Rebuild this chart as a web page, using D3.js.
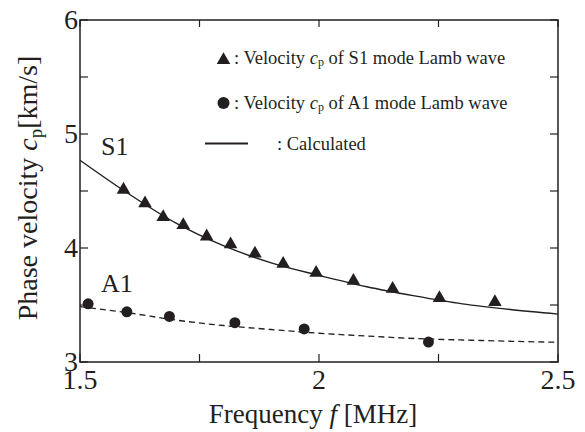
<!DOCTYPE html>
<meta charset="utf-8">
<style>
  body { margin: 0; background: #fff; }
  text { font-family: "Liberation Serif", "Times New Roman", serif; fill: #231f20; }
</style>
<svg width="585" height="432"></svg>
<script src="https://d3js.org/d3.v7.min.js"></script>
<script>
// measured S1 mode (triangles)
var s1Freq = [1.591, 1.636, 1.674, 1.716, 1.765, 1.815, 1.866, 1.925, 1.994, 2.072, 2.154, 2.252, 2.368]
var s1Vel  = [4.52, 4.40, 4.28, 4.21, 4.11, 4.04, 3.96, 3.87, 3.79, 3.72, 3.65, 3.57, 3.535]
// measured A1 mode (circles)
var a1Freq = [1.517, 1.598, 1.687, 1.824, 1.969, 2.229]
var a1Vel  = [3.51, 3.44, 3.40, 3.345, 3.29, 3.175]
// calculated curves
var calcFreq = [1.5, 1.6, 1.7, 1.8, 1.9, 2.0, 2.1, 2.2, 2.3, 2.4, 2.5]
var calcS1   = [4.77, 4.48, 4.22, 4.02, 3.87, 3.76, 3.66, 3.58, 3.51, 3.46, 3.42]
var calcA1   = [3.485, 3.432, 3.368, 3.32, 3.285, 3.252, 3.228, 3.206, 3.193, 3.182, 3.173]
var xTicks = [1.5, 2, 2.5]
var yTicks = [3, 4, 5, 6]

var ink = '#231f20'
var svg = d3.select('svg')
// note: "top" is taken by window.top, so use other names
var pLeft = 80, pRight = 558, pTop = 20, pBottom = 362

var x = d3.scaleLinear().domain([1.5, 2.5]).range([pLeft, pRight])
var y = d3.scaleLinear().domain([3, 6]).range([pBottom, pTop])

// frame
svg.append('rect')
    .attr('x', pLeft).attr('y', pTop)
    .attr('width', pRight - pLeft).attr('height', pBottom - pTop)
    .attr('fill', 'none').attr('stroke', ink).attr('stroke-width', 1.5)

// inward ticks on all four sides
var xt = d3.range(1.5, 2.51, 0.25)
var yt = d3.range(3, 6.01, 0.5)
var tk = svg.append('g').attr('stroke', ink).attr('stroke-width', 1.2)
xt.forEach(function (v) {
    tk.append('line').attr('x1', x(v)).attr('x2', x(v)).attr('y1', pBottom).attr('y2', pBottom - 8)
    tk.append('line').attr('x1', x(v)).attr('x2', x(v)).attr('y1', pTop).attr('y2', pTop + 7)
})
yt.forEach(function (v) {
    tk.append('line').attr('x1', pLeft).attr('x2', pLeft + 8).attr('y1', y(v)).attr('y2', y(v))
    tk.append('line').attr('x1', pRight).attr('x2', pRight - 8).attr('y1', y(v)).attr('y2', y(v))
})

// tick labels
svg.append('g').selectAll('text').data(xTicks).enter().append('text')
    .attr('x', function (d) { return x(d) })
    .attr('y', pBottom + 27)
    .attr('text-anchor', 'middle')
    .attr('font-size', 28)
    .text(function (d) { return d })
svg.append('g').selectAll('text').data(yTicks).enter().append('text')
    .attr('x', pLeft - 2)
    .attr('y', function (d) { return y(d) + 9 })
    .attr('text-anchor', 'end')
    .attr('font-size', 28)
    .text(function (d) { return d })

// axis titles
var xt2 = svg.append('text').attr('x', 313).attr('y', 423).attr('text-anchor', 'middle').attr('font-size', 27)
xt2.append('tspan').text('Frequency ')
xt2.append('tspan').attr('font-style', 'italic').text('f')
xt2.append('tspan').text(' [MHz]')

var yt2 = svg.append('text').attr('transform', 'translate(37,188) rotate(-90)')
    .attr('text-anchor', 'middle').attr('font-size', 28)
yt2.append('tspan').text('Phase velocity ')
yt2.append('tspan').attr('font-style', 'italic').text('c')
yt2.append('tspan').attr('font-size', 19).attr('dy', 5).text('p')
yt2.append('tspan').attr('dy', -5).text('[km/s]')

// calculated curves
var line = d3.line().curve(d3.curveMonotoneX)
    .x(function (d) { return x(d[0]) }).y(function (d) { return y(d[1]) })
svg.append('path').datum(d3.zip(calcFreq, calcS1))
    .attr('d', line).attr('fill', 'none').attr('stroke', ink).attr('stroke-width', 1.4)
svg.append('path').datum(d3.zip(calcFreq, calcA1))
    .attr('d', line).attr('fill', 'none').attr('stroke', ink).attr('stroke-width', 1.3)
    .attr('stroke-dasharray', '6,4')

// measured points
var tri = d3.symbol().type(d3.symbolTriangle).size(80)
svg.append('g').selectAll('path').data(d3.zip(s1Freq, s1Vel)).enter().append('path')
    .attr('d', tri)
    .attr('transform', function (d) { return 'translate(' + x(d[0]) + ',' + (y(d[1]) + 1) + ')' })
    .attr('fill', ink)
svg.append('g').selectAll('circle').data(d3.zip(a1Freq, a1Vel)).enter().append('circle')
    .attr('cx', function (d) { return x(d[0]) }).attr('cy', function (d) { return y(d[1]) })
    .attr('r', 5.5).attr('fill', ink)

// curve labels
svg.append('text').attr('x', 101).attr('y', 155).attr('font-size', 26).text('S1')
svg.append('text').attr('x', 101).attr('y', 292).attr('font-size', 26).text('A1')

// legend
svg.append('path').attr('d', tri).attr('transform', 'translate(223.5,60)').attr('fill', ink)
svg.append('circle').attr('cx', 223.5).attr('cy', 103).attr('r', 6).attr('fill', ink)
svg.append('line').attr('x1', 205).attr('x2', 248).attr('y1', 143.5).attr('y2', 143.5)
    .attr('stroke', ink).attr('stroke-width', 2.2)

function legendText(yy, mode) {
    var t = svg.append('text').attr('x', 234).attr('y', yy).attr('font-size', 18.5)
    t.append('tspan').text(': Velocity ')
    t.append('tspan').attr('font-style', 'italic').text('c')
    t.append('tspan').attr('font-size', 12).attr('dy', 2).text('p')
    t.append('tspan').attr('dy', -2).text(' of ' + mode + ' mode Lamb wave')
}
legendText(64, 'S1')
legendText(109, 'A1')
svg.append('text').attr('x', 277).attr('y', 150).attr('font-size', 18.5).text(': Calculated')
</script>
